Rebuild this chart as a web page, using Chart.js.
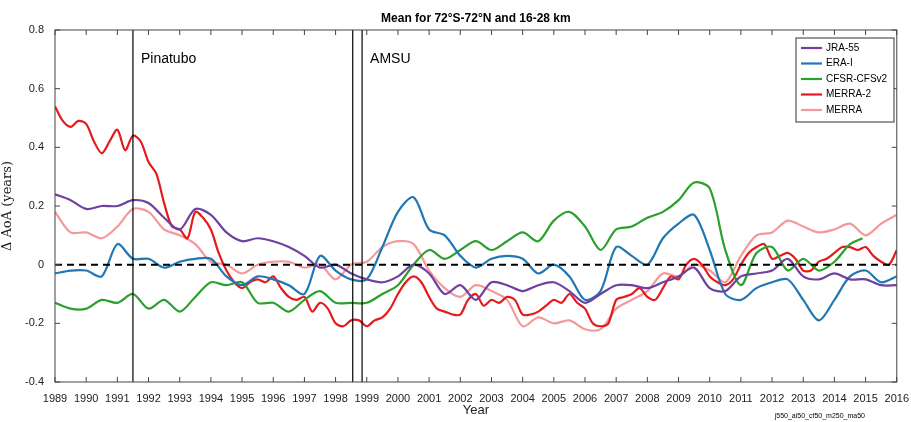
<!DOCTYPE html>
<html><head><meta charset="utf-8">
<script src="https://cdn.jsdelivr.net/npm/chart.js@4"></script>
<style>html,body{margin:0;padding:0;background:#fff}#w{width:911px;height:422px}</style>
</head><body><div id="w"><canvas id="c"></canvas></div>
<script>
const years = [];
for (let i = 0; i <= 54; i++) years.push(1989 + i * 0.5);
const redYears = [];
for (let i = 0; i <= 108; i++) redYears.push(1989 + i * 0.25);
const greenYears = years.slice(0, 52).concat([2014.9]);

const jra55 = [0.24,0.22,0.19,0.20,0.20,0.22,0.21,0.16,0.12,0.19,0.17,0.11,0.08,0.09,0.08,0.06,0.03,-0.01,0.00,-0.03,-0.05,-0.06,-0.04,0.00,-0.03,-0.10,-0.07,-0.12,-0.06,-0.07,-0.09,-0.07,-0.06,-0.09,-0.13,-0.10,-0.07,-0.07,-0.08,-0.06,-0.04,-0.01,-0.08,-0.09,-0.04,-0.03,-0.02,0.02,-0.04,-0.05,-0.03,-0.05,-0.05,-0.07,-0.07];
const erai = [-0.03,-0.02,-0.02,-0.04,0.07,0.02,0.02,-0.01,0.01,0.02,0.02,-0.04,-0.07,-0.04,-0.05,-0.07,-0.10,0.03,-0.02,-0.05,-0.05,0.06,0.18,0.23,0.12,0.10,0.03,-0.01,0.02,0.03,0.02,-0.03,0.00,-0.04,-0.12,-0.09,0.06,0.03,0.00,0.09,0.14,0.17,0.05,-0.10,-0.12,-0.08,-0.06,-0.05,-0.12,-0.19,-0.12,-0.04,-0.02,-0.06,-0.04];
const cfsr = [-0.13,-0.15,-0.15,-0.12,-0.13,-0.10,-0.15,-0.12,-0.16,-0.11,-0.06,-0.07,-0.06,-0.13,-0.13,-0.16,-0.12,-0.09,-0.13,-0.13,-0.13,-0.10,-0.07,0.00,0.05,0.02,0.05,0.08,0.05,0.08,0.11,0.08,0.15,0.18,0.13,0.05,0.12,0.13,0.16,0.18,0.22,0.28,0.26,0.05,-0.07,0.04,0.06,-0.02,0.02,-0.02,0.01,0.07,0.09];
const merra2 = [0.54,0.49,0.47,0.49,0.48,0.42,0.38,0.42,0.46,0.39,0.44,0.42,0.35,0.31,0.21,0.13,0.12,0.09,0.18,0.16,0.12,0.04,-0.02,-0.06,-0.08,-0.06,-0.05,-0.06,-0.04,-0.08,-0.11,-0.12,-0.11,-0.16,-0.13,-0.15,-0.20,-0.21,-0.19,-0.19,-0.21,-0.19,-0.18,-0.15,-0.10,-0.06,-0.04,-0.06,-0.11,-0.15,-0.16,-0.17,-0.17,-0.12,-0.10,-0.14,-0.12,-0.13,-0.11,-0.12,-0.17,-0.17,-0.16,-0.14,-0.12,-0.13,-0.10,-0.13,-0.15,-0.20,-0.21,-0.20,-0.12,-0.11,-0.10,-0.08,-0.11,-0.12,-0.08,-0.04,-0.05,0.00,0.02,0.00,-0.04,-0.06,-0.07,-0.05,0.00,0.04,0.06,0.07,0.02,0.03,0.04,0.02,-0.02,-0.02,0.01,0.02,0.04,0.06,0.06,0.05,0.06,0.03,0.01,0.00,0.05];
const merra = [0.18,0.11,0.11,0.09,0.13,0.19,0.18,0.12,0.10,0.07,0.01,0.00,-0.03,0.00,0.01,0.01,-0.01,0.00,-0.05,0.00,0.01,0.06,0.08,0.07,-0.02,-0.08,-0.11,-0.07,-0.09,-0.12,-0.21,-0.18,-0.20,-0.19,-0.22,-0.22,-0.15,-0.12,-0.09,-0.03,-0.04,0.00,-0.02,-0.06,0.03,0.10,0.11,0.15,0.13,0.11,0.12,0.14,0.10,0.14,0.17];
const yTicks = [-0.4,-0.2,0,0.2,0.4,0.6,0.8];
const events = [{x:1991.5,label:'Pinatubo'},{x:1998.55,label:''},{x:1998.85,label:'AMSU'}];

const pts = (xs, ys) => ys.map((v, i) => ({x: xs[i], y: v}));
const mk = (label, xs, ys, color) => ({label, data: pts(xs, ys), borderColor: color, backgroundColor: color, borderWidth: 2.2, pointRadius: 0, tension: 0.3, fill: false});
const datasets = [
  mk('JRA-55', years, jra55, '#7040a0'),
  mk('ERA-I', years, erai, '#1f77b4'),
  mk('CFSR-CFSv2', greenYears, cfsr, '#2ca02c'),
  mk('MERRA-2', redYears, merra2, '#e41a1c'),
  mk('MERRA', years, merra, '#f4999a')
];
const FONT = 'Helvetica, Arial, "Liberation Sans", sans-serif';

const deco = {
  id: 'deco',
  afterDatasetsDraw(ch) {
    const {ctx, chartArea: a, scales: {x, y}} = ch;
    ctx.save();
    ctx.strokeStyle = '#000'; ctx.lineWidth = 2; ctx.setLineDash([7, 5]);
    ctx.beginPath(); ctx.moveTo(a.left, y.getPixelForValue(0)); ctx.lineTo(a.right, y.getPixelForValue(0)); ctx.stroke();
    ctx.setLineDash([]);
    ctx.lineWidth = 1.2; ctx.fillStyle = '#000'; ctx.font = '14px ' + FONT; ctx.textBaseline = 'middle';
    events.forEach(e => {
      const px = x.getPixelForValue(e.x);
      ctx.beginPath(); ctx.moveTo(px, a.top); ctx.lineTo(px, a.bottom); ctx.stroke();
      if (e.label) ctx.fillText(e.label, px + 8, y.getPixelForValue(0.7));
    });
    ctx.lineWidth = 1; ctx.strokeStyle = '#444';
    ctx.strokeRect(a.left, a.top, a.right - a.left, a.bottom - a.top);
    x.ticks.forEach(t => { const px = x.getPixelForValue(t.value); ctx.beginPath(); ctx.moveTo(px, a.top); ctx.lineTo(px, a.top + 5); ctx.moveTo(px, a.bottom); ctx.lineTo(px, a.bottom - 5); ctx.stroke(); });
    y.ticks.forEach(t => { const py = y.getPixelForValue(t.value); ctx.beginPath(); ctx.moveTo(a.left, py); ctx.lineTo(a.left + 5, py); ctx.moveTo(a.right, py); ctx.lineTo(a.right - 5, py); ctx.stroke(); });
    const lx = 796, ly = 38, lw = 98, lh = 84;
    ctx.fillStyle = '#fff'; ctx.fillRect(lx, ly, lw, lh);
    ctx.strokeStyle = '#333'; ctx.strokeRect(lx, ly, lw, lh);
    ctx.font = '10px ' + FONT;
    datasets.forEach((d, i) => {
      const yy = ly + 10 + i * 15.5;
      ctx.strokeStyle = d.borderColor; ctx.lineWidth = 2.2;
      ctx.beginPath(); ctx.moveTo(lx + 5, yy); ctx.lineTo(lx + 26, yy); ctx.stroke();
      ctx.fillStyle = '#000'; ctx.fillText(d.label, lx + 30, yy);
    });
    ctx.font = 'bold 12px ' + FONT; ctx.textAlign = 'center'; ctx.textBaseline = 'bottom';
    ctx.fillText('Mean for 72°S-72°N and 16-28 km', (a.left + a.right) / 2, a.top - 5);
    ctx.font = '7px ' + FONT; ctx.textAlign = 'right'; ctx.textBaseline = 'middle';
    ctx.fillText('j550_ai50_cf50_m250_ma50', 865, 416);
    ctx.restore();
  }
};

new Chart(document.getElementById('c'), {
  type: 'line',
  data: {datasets},
  plugins: [deco],
  options: {
    responsive: true, maintainAspectRatio: false, animation: false,
    layout: {padding: {top: 30, right: 8, left: 0, bottom: 0}},
    plugins: {legend: {display: false}, tooltip: {enabled: false}},
    scales: {
      x: {type: 'linear', min: 1989, max: 2016,
        afterFit: s => { s.height = 40; },
        ticks: {stepSize: 1, color: '#222', font: {size: 11, family: FONT}, maxRotation: 0, autoSkip: false, padding: 2, callback: v => String(v)},
        grid: {display: false}, border: {display: false},
        title: {display: true, text: 'Year', color: '#222', font: {size: 13, family: FONT}, padding: {top: 0}}},
      y: {min: -0.4, max: 0.8,
        afterFit: s => { s.width = 55; },
        afterBuildTicks: s => { s.ticks = yTicks.map(v => ({value: v})); },
        ticks: {color: '#222', font: {size: 11, family: FONT}, callback: v => v === 0 ? '0' : v.toFixed(1)},
        grid: {display: false}, border: {display: false},
        title: {display: true, text: 'Δ AoA (years)', color: '#222', font: {size: 13, family: '"DejaVu Serif", "Liberation Serif", serif'}, padding: 0}}
    }
  }
});
</script></body></html>
